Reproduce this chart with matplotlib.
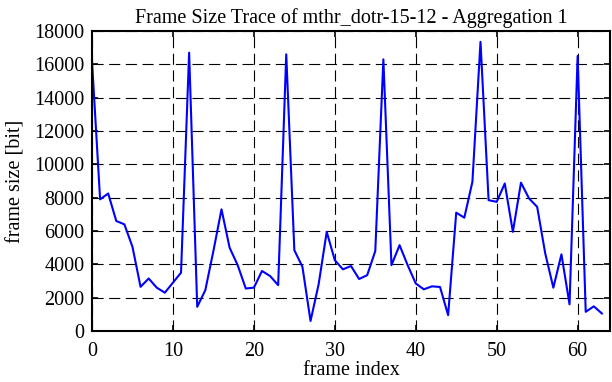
import matplotlib
matplotlib.use("Agg")
import matplotlib.pyplot as plt
import numpy as np

frame_index = list(range(64))
frame_size = [16200, 7900, 8250, 6600, 6400, 5050, 2650, 3150, 2600, 2300,
              2900, 3500, 16700, 1450, 2450, 4800, 7300, 5000, 3950, 2550,
              2600, 3600, 3300, 2750, 16600, 4850, 3850, 600, 2800, 5950,
              4250, 3700, 3900, 3120, 3350, 4800, 16300, 3950, 5150, 3950,
              2850, 2500, 2680, 2640, 950, 7100, 6800, 8950, 17350, 7850,
              7750, 8850, 5950, 8900, 7950, 7450, 4650, 2600, 4600, 1600,
              16500, 1150, 1480, 1050]

x_ticks = [0, 10, 20, 30, 40, 50, 60]
y_ticks = [0, 2000, 4000, 6000, 8000, 10000, 12000, 14000, 16000, 18000]

plt.rcParams['font.family'] = ['Liberation Serif', 'DejaVu Serif']
fig = plt.figure(figsize=(6.12, 3.82), dpi=100)
ax = fig.add_axes([92/612, 51/382, (610-92)/612, (331-31)/382])
ax.plot(frame_index, frame_size, color='#0000ff', lw=1.5)
ax.set_xlim(0, 64)
ax.set_ylim(0, 18000)
ax.set_xticks(x_ticks)
ax.set_yticks(y_ticks)
ax.tick_params(direction='in', top=True, right=True, length=4.5, width=1.2,
               labelsize=14.5, colors='black')
ax.tick_params(axis='x', pad=8)
ax.tick_params(axis='y', pad=5.5)
ax.grid(True, color='black', linestyle=(0, (10, 5)), linewidth=0.8)
for s in ax.spines.values():
    s.set_linewidth(1.5)
ax.set_xlabel('frame index', fontsize=14.5, labelpad=0)
ax.set_ylabel('frame size [bit]', fontsize=14.5, labelpad=6)
ax.set_title('Frame Size Trace of mthr_dotr-15-12 - Aggregation 1', fontsize=14.5, pad=6)
fig.savefig('out.png', dpi=100)
